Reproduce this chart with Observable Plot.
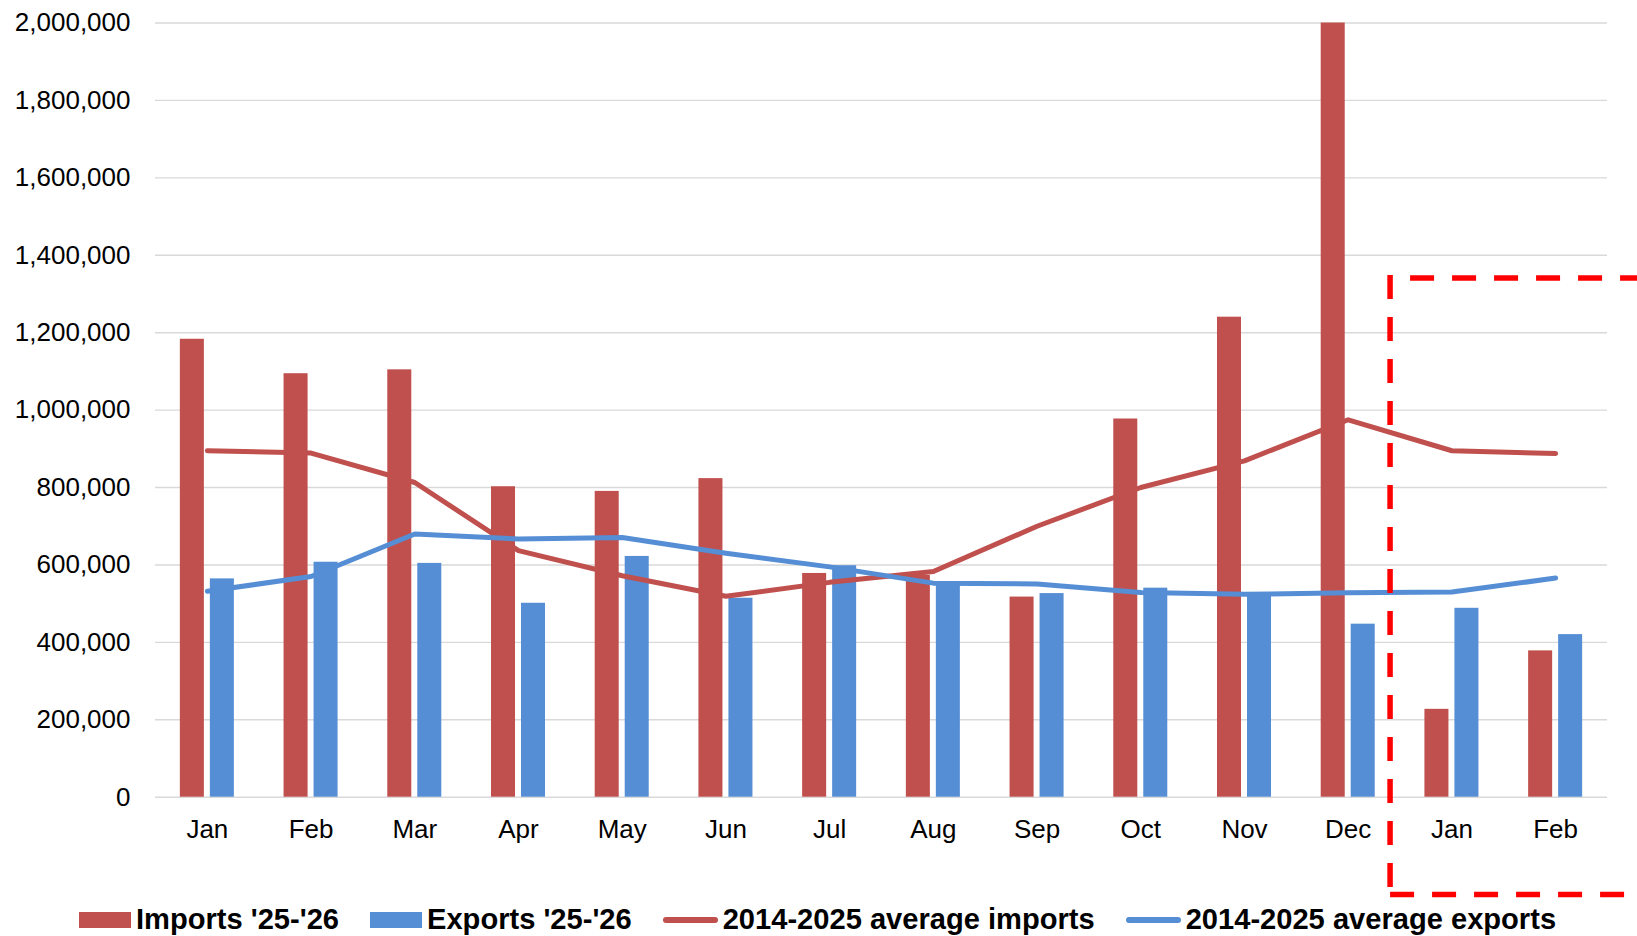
<!DOCTYPE html>
<html><head><meta charset="utf-8">
<script src="https://cdn.jsdelivr.net/npm/d3@7"></script>
<script src="https://cdn.jsdelivr.net/npm/@observablehq/plot@0.6"></script>
<style>
html,body{margin:0;padding:0;background:#fff;}
body{width:1637px;height:936px;overflow:hidden;font-family:"Liberation Sans",Arial,sans-serif;}
#legend{height:36px;display:flex;align-items:center;gap:31px;padding-left:79px;padding-top:3px;box-sizing:border-box;font-weight:bold;font-size:29.1px;color:#000;white-space:nowrap;}
.item{display:flex;align-items:center;gap:5px;}
.sw{width:52px;height:16px;}
.ln{width:55px;height:6px;border-radius:3px;}
</style></head><body>
<div id="chart"></div>
<div id="legend"></div>
<script>
// ---- data ----
const categories = ["Jan 25","Feb 25","Mar 25","Apr 25","May 25","Jun 25","Jul 25","Aug 25","Sep 25","Oct 25","Nov 25","Dec 25","Jan 26","Feb 26"];
const tickLabels = ["Jan","Feb","Mar","Apr","May","Jun","Jul","Aug","Sep","Oct","Nov","Dec","Jan","Feb"];
const imports = [1183000,1094000,1104000,802000,790000,823000,578000,573000,517000,977000,1240000,2000000,227000,378000];
const exports = [564000,607000,604000,501000,622000,514000,598000,550000,526000,540000,524000,447000,488000,420000];
const avgImports = [895000,889000,813000,637000,572000,519000,555000,583000,700000,800000,869000,975000,895000,888000];
const avgExports = [532000,570000,680000,667000,671000,630000,595000,553000,551000,529000,524000,528000,530000,566000];
const yTicks = [0,200000,400000,600000,800000,1000000,1200000,1400000,1600000,1800000,2000000];
const seriesNames = ["Imports '25-'26","Exports '25-'26","2014-2025 average imports","2014-2025 average exports"];
const seriesColors = ["#C0504D","#558ED5","#C0504D","#558ED5"];
const highlightFrom = "Jan 26";
const highlightTop = 1340000;

const rows = categories.map((c,i)=>({cat:c, imp:imports[i], exp:exports[i], ai:avgImports[i], ae:avgExports[i]}));

function highlightBox(index, scales, values, dims) {
  const x0 = scales.x(highlightFrom) - 9.5;
  const yTop = scales.y(highlightTop);
  const yBot = dims.height - 5.5;
  const right = dims.width + 10;
  const g = d3.create("svg:g").attr("fill","none").attr("stroke","#FF0000").attr("stroke-width",5.5);
  g.append("path").attr("d", `M${x0},${yTop-3}V${yBot}`).attr("stroke-dasharray","24 18");
  g.append("path").attr("d", `M${x0},${yTop}H${right}`).attr("stroke-dasharray","24 18").attr("stroke-dashoffset",22);
  g.append("path").attr("d", `M${x0},${yBot}H${right}`).attr("stroke-dasharray","24 18");
  return g.node();
}

const chart = Plot.plot({
  width: 1637,
  height: 900,
  marginLeft: 155,
  marginRight: 30,
  marginTop: 22.5,
  marginBottom: 103.3,
  style: {fontFamily: '"Liberation Sans", Arial, sans-serif', fontSize: "26px", color: "#000", background: "#fff", overflow: "visible"},
  x: {domain: categories, padding: 0, round: false},
  y: {domain: [0, 2000000]},
  marks: [
    Plot.ruleY(yTicks, {stroke: "#d9d9d9", strokeWidth: 1.4}),
    Plot.barY(rows, {x: "cat", y: "imp", fill: seriesColors[0], insetLeft: 24.85, insetRight: 54.85}),
    Plot.barY(rows, {x: "cat", y: "exp", fill: seriesColors[1], insetLeft: 54.85, insetRight: 24.85}),
    Plot.line(rows, {x: "cat", y: "ai", stroke: seriesColors[2], strokeWidth: 5, strokeLinecap: "round", strokeLinejoin: "round"}),
    Plot.line(rows, {x: "cat", y: "ae", stroke: seriesColors[3], strokeWidth: 5, strokeLinecap: "round", strokeLinejoin: "round"}),
    Plot.axisY({ticks: yTicks, tickFormat: d3.format(","), tickSize: 0, tickPadding: 25, fontSize: 26, label: null}),
    Plot.axisX({tickFormat: d => tickLabels[categories.indexOf(d)], tickSize: 0, tickPadding: 22, fontSize: 26, label: null}),
    highlightBox
  ]
});
document.getElementById("chart").appendChild(chart);

const legend = document.getElementById("legend");
seriesNames.forEach((name, i) => {
  const item = document.createElement("div");
  item.className = "item";
  const sw = document.createElement("div");
  sw.className = i < 2 ? "sw" : "ln";
  sw.style.background = seriesColors[i];
  const t = document.createElement("span");
  t.textContent = name;
  item.appendChild(sw); item.appendChild(t);
  legend.appendChild(item);
});
</script>
</body></html>
